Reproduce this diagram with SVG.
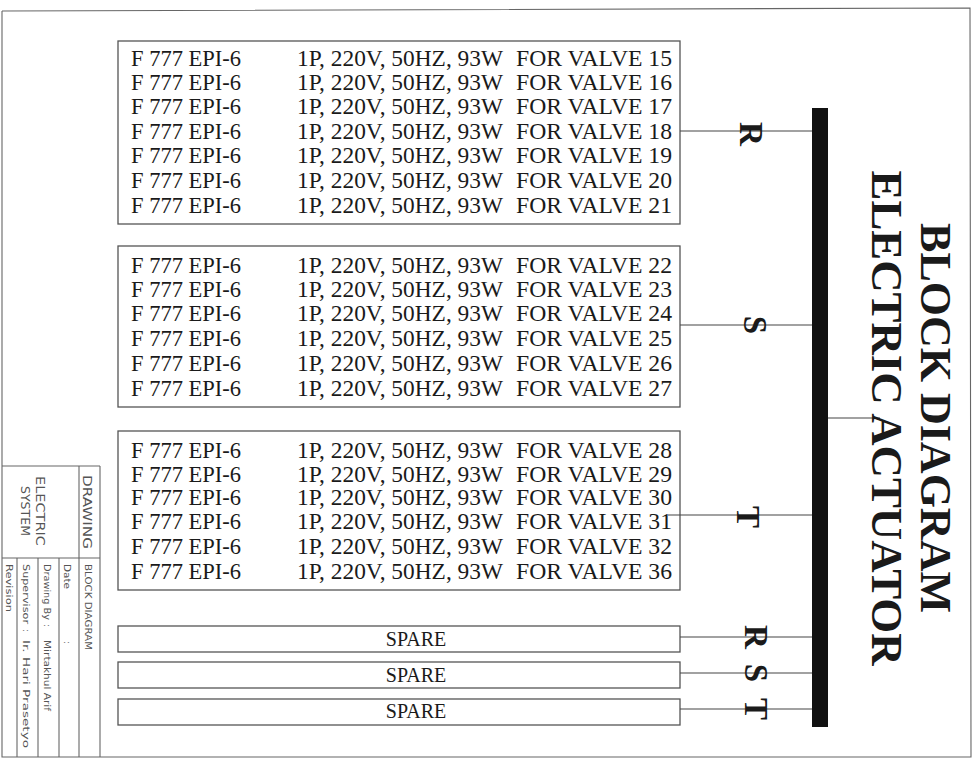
<svg xmlns="http://www.w3.org/2000/svg" width="977" height="760" viewBox="0 0 977 760">
<defs>
<style>
.bx{fill:none;stroke:#555;stroke-width:1.3}
.ln{stroke:#444;stroke-width:1.1;fill:none}
.row{font-family:"Liberation Serif","Times New Roman",serif;font-size:22.5px;fill:#1a1a1a}
.sp{font-family:"Liberation Serif","Times New Roman",serif;font-size:20px;fill:#1a1a1a;text-anchor:middle}
.ph{font-family:"Liberation Serif","Times New Roman",serif;font-size:33px;font-weight:bold;fill:#1a1a1a;text-anchor:middle}
.ttl{font-family:"Liberation Serif","Times New Roman",serif;font-size:44px;font-weight:bold;fill:#1a1a1a;text-anchor:middle}
.tb{font-family:"DejaVu Sans","Liberation Sans",sans-serif;fill:#555}
.tbl{stroke:#666;stroke-width:1.1;fill:none}
</style>
</defs>
<rect width="977" height="760" fill="#fff"/>
<g id="border"><polyline class="tbl" points="2,11 970,8 971,757 2,757 2,11"/></g>

<g id="box1">
<rect class="bx" x="118" y="41" width="562" height="183"/>
<g class="row">
<text x="131" y="66">F 777 EPI-6</text><text x="297" y="66" textLength="206" lengthAdjust="spacingAndGlyphs">1P, 220V, 50HZ, 93W</text><text x="516" y="66" textLength="156" lengthAdjust="spacingAndGlyphs">FOR VALVE 15</text>
<text x="131" y="90">F 777 EPI-6</text><text x="297" y="90" textLength="206" lengthAdjust="spacingAndGlyphs">1P, 220V, 50HZ, 93W</text><text x="516" y="90" textLength="156" lengthAdjust="spacingAndGlyphs">FOR VALVE 16</text>
<text x="131" y="114">F 777 EPI-6</text><text x="297" y="114" textLength="206" lengthAdjust="spacingAndGlyphs">1P, 220V, 50HZ, 93W</text><text x="516" y="114" textLength="156" lengthAdjust="spacingAndGlyphs">FOR VALVE 17</text>
<text x="131" y="139">F 777 EPI-6</text><text x="297" y="139" textLength="206" lengthAdjust="spacingAndGlyphs">1P, 220V, 50HZ, 93W</text><text x="516" y="139" textLength="156" lengthAdjust="spacingAndGlyphs">FOR VALVE 18</text>
<text x="131" y="163">F 777 EPI-6</text><text x="297" y="163" textLength="206" lengthAdjust="spacingAndGlyphs">1P, 220V, 50HZ, 93W</text><text x="516" y="163" textLength="156" lengthAdjust="spacingAndGlyphs">FOR VALVE 19</text>
<text x="131" y="188">F 777 EPI-6</text><text x="297" y="188" textLength="206" lengthAdjust="spacingAndGlyphs">1P, 220V, 50HZ, 93W</text><text x="516" y="188" textLength="156" lengthAdjust="spacingAndGlyphs">FOR VALVE 20</text>
<text x="131" y="213">F 777 EPI-6</text><text x="297" y="213" textLength="206" lengthAdjust="spacingAndGlyphs">1P, 220V, 50HZ, 93W</text><text x="516" y="213" textLength="156" lengthAdjust="spacingAndGlyphs">FOR VALVE 21</text>
</g>
</g>

<g id="box2">
<rect class="bx" x="118" y="246" width="562" height="161"/>
<g class="row">
<text x="131" y="273">F 777 EPI-6</text><text x="297" y="273" textLength="206" lengthAdjust="spacingAndGlyphs">1P, 220V, 50HZ, 93W</text><text x="516" y="273" textLength="156" lengthAdjust="spacingAndGlyphs">FOR VALVE 22</text>
<text x="131" y="297">F 777 EPI-6</text><text x="297" y="297" textLength="206" lengthAdjust="spacingAndGlyphs">1P, 220V, 50HZ, 93W</text><text x="516" y="297" textLength="156" lengthAdjust="spacingAndGlyphs">FOR VALVE 23</text>
<text x="131" y="321">F 777 EPI-6</text><text x="297" y="321" textLength="206" lengthAdjust="spacingAndGlyphs">1P, 220V, 50HZ, 93W</text><text x="516" y="321" textLength="156" lengthAdjust="spacingAndGlyphs">FOR VALVE 24</text>
<text x="131" y="346">F 777 EPI-6</text><text x="297" y="346" textLength="206" lengthAdjust="spacingAndGlyphs">1P, 220V, 50HZ, 93W</text><text x="516" y="346" textLength="156" lengthAdjust="spacingAndGlyphs">FOR VALVE 25</text>
<text x="131" y="371">F 777 EPI-6</text><text x="297" y="371" textLength="206" lengthAdjust="spacingAndGlyphs">1P, 220V, 50HZ, 93W</text><text x="516" y="371" textLength="156" lengthAdjust="spacingAndGlyphs">FOR VALVE 26</text>
<text x="131" y="396">F 777 EPI-6</text><text x="297" y="396" textLength="206" lengthAdjust="spacingAndGlyphs">1P, 220V, 50HZ, 93W</text><text x="516" y="396" textLength="156" lengthAdjust="spacingAndGlyphs">FOR VALVE 27</text>
</g>
</g>

<g id="box3">
<rect class="bx" x="118" y="431" width="562" height="159"/>
<g class="row">
<text x="131" y="458">F 777 EPI-6</text><text x="297" y="458" textLength="206" lengthAdjust="spacingAndGlyphs">1P, 220V, 50HZ, 93W</text><text x="516" y="458" textLength="156" lengthAdjust="spacingAndGlyphs">FOR VALVE 28</text>
<text x="131" y="482">F 777 EPI-6</text><text x="297" y="482" textLength="206" lengthAdjust="spacingAndGlyphs">1P, 220V, 50HZ, 93W</text><text x="516" y="482" textLength="156" lengthAdjust="spacingAndGlyphs">FOR VALVE 29</text>
<text x="131" y="505">F 777 EPI-6</text><text x="297" y="505" textLength="206" lengthAdjust="spacingAndGlyphs">1P, 220V, 50HZ, 93W</text><text x="516" y="505" textLength="156" lengthAdjust="spacingAndGlyphs">FOR VALVE 30</text>
<text x="131" y="529">F 777 EPI-6</text><text x="297" y="529" textLength="206" lengthAdjust="spacingAndGlyphs">1P, 220V, 50HZ, 93W</text><text x="516" y="529" textLength="156" lengthAdjust="spacingAndGlyphs">FOR VALVE 31</text>
<text x="131" y="554">F 777 EPI-6</text><text x="297" y="554" textLength="206" lengthAdjust="spacingAndGlyphs">1P, 220V, 50HZ, 93W</text><text x="516" y="554" textLength="156" lengthAdjust="spacingAndGlyphs">FOR VALVE 32</text>
<text x="131" y="579">F 777 EPI-6</text><text x="297" y="579" textLength="206" lengthAdjust="spacingAndGlyphs">1P, 220V, 50HZ, 93W</text><text x="516" y="579" textLength="156" lengthAdjust="spacingAndGlyphs">FOR VALVE 36</text>
</g>
</g>

<g id="spare1"><rect class="bx" x="118" y="626" width="562" height="26"/><text class="sp" x="416" y="646">SPARE</text></g>
<g id="spare2"><rect class="bx" x="118" y="662" width="562" height="26"/><text class="sp" x="416" y="682">SPARE</text></g>
<g id="spare3"><rect class="bx" x="118" y="699" width="562" height="26"/><text class="sp" x="416" y="718">SPARE</text></g>

<g id="bus"><rect x="812" y="108" width="16" height="619" fill="#111"/></g>

<g id="connectors">
<line class="ln" x1="680" y1="131" x2="812" y2="131"/>
<line class="ln" x1="680" y1="325" x2="812" y2="325"/>
<line class="ln" x1="668" y1="515" x2="812" y2="515"/>
<line class="ln" x1="680" y1="637" x2="812" y2="637"/>
<line class="ln" x1="680" y1="673" x2="812" y2="673"/>
<line class="ln" x1="680" y1="709" x2="812" y2="709"/>
<line class="ln" x1="828" y1="418" x2="880" y2="418"/>
</g>

<g id="phase-labels">
<text class="ph" transform="translate(740,134) rotate(90)">R</text>
<text class="ph" transform="translate(744,325) rotate(90)">S</text>
<text class="ph" transform="translate(737,517) rotate(90)">T</text>
<text class="ph" transform="translate(745,637) rotate(90)">R</text>
<text class="ph" transform="translate(745,673) rotate(90)">S</text>
<text class="ph" transform="translate(745,709) rotate(90)">T</text>
</g>

<g id="title">
<text class="ttl" transform="translate(921,418) rotate(90)">BLOCK DIAGRAM</text>
<text class="ttl" transform="translate(872,418) rotate(90)" textLength="495" lengthAdjust="spacingAndGlyphs">ELECTRIC ACTUATOR</text>
</g>

<g id="title-block">
<line class="tbl" x1="2" y1="466" x2="100" y2="466"/>
<line class="tbl" x1="2" y1="558" x2="100" y2="558"/>
<line class="tbl" x1="100" y1="466" x2="100" y2="757"/>
<line class="tbl" x1="79" y1="466" x2="79" y2="757"/>
<line class="tbl" x1="59" y1="558" x2="59" y2="757"/>
<line class="tbl" x1="38" y1="558" x2="38" y2="757"/>
<line class="tbl" x1="17" y1="558" x2="17" y2="757"/>
<text class="tb" font-size="12.5" transform="translate(83,512) rotate(90)" text-anchor="middle" textLength="74" lengthAdjust="spacingAndGlyphs">DRAWING</text>
<text class="tb" font-size="12.5" transform="translate(36,511) rotate(90)" text-anchor="middle" textLength="70" lengthAdjust="spacingAndGlyphs">ELECTRIC</text>
<text class="tb" font-size="12.5" transform="translate(21,511) rotate(90)" text-anchor="middle" textLength="50" lengthAdjust="spacingAndGlyphs">SYSTEM</text>
<text class="tb" font-size="8" transform="translate(85,564) rotate(90)" textLength="86" lengthAdjust="spacingAndGlyphs">BLOCK DIAGRAM</text>
<text class="tb" font-size="8" transform="translate(64,564) rotate(90)" textLength="25" lengthAdjust="spacingAndGlyphs">Date</text>
<text class="tb" font-size="8" transform="translate(64,641) rotate(90)">:</text>
<text class="tb" font-size="8" transform="translate(44,564) rotate(90)" textLength="56" lengthAdjust="spacingAndGlyphs">Drawing By</text>
<text class="tb" font-size="8" transform="translate(44,624) rotate(90)">:</text>
<text class="tb" font-size="8" transform="translate(44,640) rotate(90)" textLength="71" lengthAdjust="spacingAndGlyphs">Mirtakhul Arif</text>
<text class="tb" font-size="8" transform="translate(23,564) rotate(90)" textLength="60" lengthAdjust="spacingAndGlyphs">Supervisor</text>
<text class="tb" font-size="8" transform="translate(23,629) rotate(90)">:</text>
<text class="tb" font-size="8" transform="translate(23,640) rotate(90)" textLength="108" lengthAdjust="spacingAndGlyphs">Ir. Hari Prasetyo</text>
<text class="tb" font-size="8" transform="translate(6,564) rotate(90)" textLength="48" lengthAdjust="spacingAndGlyphs">Revision</text>
</g>
</svg>
